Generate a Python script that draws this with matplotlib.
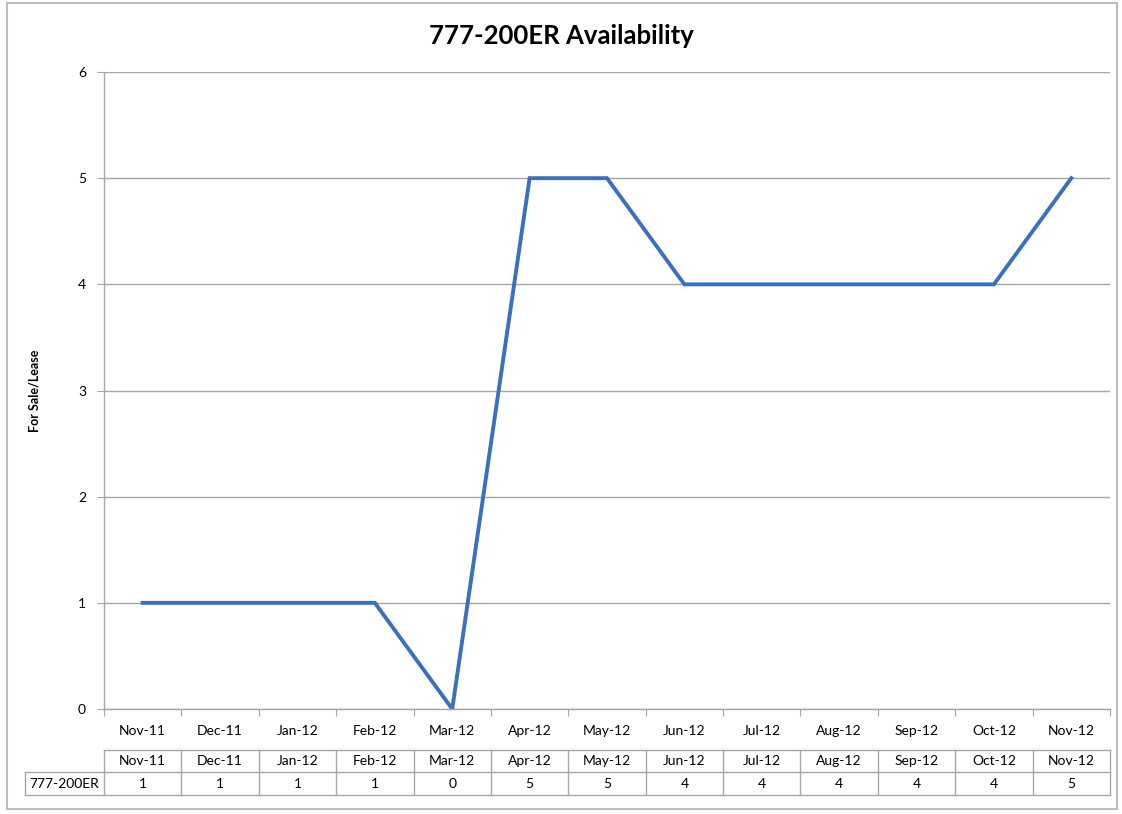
import matplotlib.pyplot as plt
from matplotlib.patches import Rectangle

plt.rcParams['font.family'] = ['Lato', 'DejaVu Sans']

# data
months = ['Nov-11', 'Dec-11', 'Jan-12', 'Feb-12', 'Mar-12', 'Apr-12', 'May-12',
          'Jun-12', 'Jul-12', 'Aug-12', 'Sep-12', 'Oct-12', 'Nov-12']
available = [1, 1, 1, 1, 0, 5, 5, 4, 4, 4, 4, 4, 5]
series_name = '777-200ER'

W, H = 1122, 814
fig = plt.figure(figsize=(W / 100, H / 100), dpi=100)

# chart border
fig.patches.append(Rectangle((7 / W, 5 / H), (1117 - 7) / W, (811 - 5) / H,
                             transform=fig.transFigure, fill=False,
                             edgecolor='#bdbdbd', linewidth=1.5))

left, right, top, bottom = 104, 1110, 72, 709
ax = fig.add_axes([left / W, 1 - bottom / H, (right - left) / W, (bottom - top) / H])

n = len(months)
x = list(range(n))
ax.plot(x, available, color='#3a70be', linewidth=2.8, solid_joinstyle='miter')

ax.set_xlim(-0.5, n - 0.5)
ax.set_ylim(0, 6)
ax.set_yticks(range(0, 7))
ax.yaxis.grid(True, color='#a6a6a6', linewidth=1.0)
ax.set_axisbelow(True)

for s in ['top', 'right']:
    ax.spines[s].set_visible(False)
for s in ['left', 'bottom']:
    ax.spines[s].set_color('#a6a6a6')
    ax.spines[s].set_linewidth(1.0)

ax.tick_params(axis='y', length=5, color='#a6a6a6', labelsize=10, pad=8)
ax.set_xticks([i - 0.5 for i in range(n + 1)])
ax.set_xticklabels([])
ax.tick_params(axis='x', length=5, color='#a6a6a6')
for i, m in enumerate(months):
    ax.text(i, -0.035, m, transform=ax.get_xaxis_transform(),
            ha='center', va='center', fontsize=10)

ax.set_ylabel('For Sale/Lease', fontsize=9, fontweight='bold')
ax.yaxis.set_label_coords((40 - left) / (right - left), 0.5)
fig.suptitle('777-200ER Availability', fontsize=18.5, fontweight='bold', y=1 - 36 / H,
             va='center')

# data table under the axis
tr = ax.get_xaxis_transform()
ax_h = bottom - top
y_top = (bottom - 750) / ax_h
y_mid = (bottom - 772) / ax_h
y_bot = (bottom - 795) / ax_h
x_label_left = -0.5 - (left - 25) / ((right - left) / n)
kw = dict(transform=tr, color='#a6a6a6', linewidth=1.0, clip_on=False)
ax.plot([-0.5, n - 0.5], [y_top, y_top], **kw)
ax.plot([x_label_left, n - 0.5], [y_mid, y_mid], **kw)
ax.plot([x_label_left, n - 0.5], [y_bot, y_bot], **kw)
ax.plot([x_label_left, x_label_left], [y_mid, y_bot], **kw)
for i in range(n + 1):
    ax.plot([i - 0.5, i - 0.5], [y_top, y_bot], **kw)
for i, m in enumerate(months):
    ax.text(i, (y_top + y_mid) / 2, m, transform=tr, ha='center', va='center', fontsize=10)
    ax.text(i, (y_mid + y_bot) / 2, str(available[i]), transform=tr,
            ha='center', va='center', fontsize=10)
ax.text((x_label_left - 0.5) / 2, (y_mid + y_bot) / 2, series_name, transform=tr,
        ha='center', va='center', fontsize=10)

fig.savefig('out.png', dpi=100)
